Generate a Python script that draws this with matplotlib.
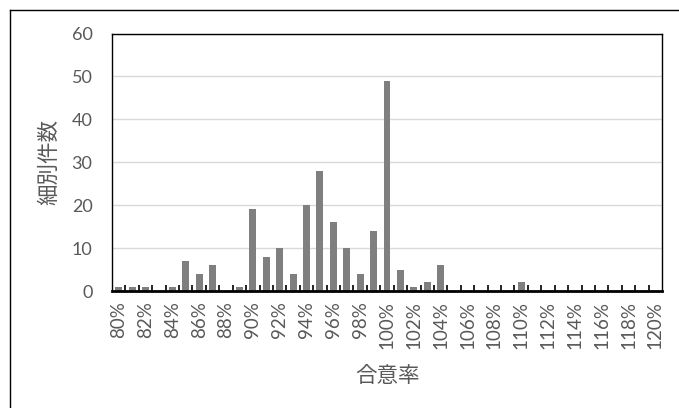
import matplotlib
matplotlib.use("Agg")
import matplotlib.pyplot as plt
from matplotlib.lines import Line2D
import numpy as np

plt.rcParams['font.family'] = ['Lato', 'Noto Sans CJK JP', 'DejaVu Sans']

# 合意率 (%) categories and counts per category
rates = list(range(80, 121))
counts = [1, 1, 1, 0, 1, 7, 4, 6, 0, 1,
          19, 8, 10, 4, 20, 28, 16, 10, 4, 14,
          49, 5, 1, 2, 6, 0, 0, 0, 0, 0,
          2, 0, 0, 0, 0, 0, 0, 0, 0, 0, 0]
tick_labels = [f"{r}%" for r in rates]
y_ticks = [0, 10, 20, 30, 40, 50, 60]

text_color = "#595959"
bar_color = "#7f7f7f"
grid_color = "#d9d9d9"
cjk = ['Noto Sans CJK JP', 'DejaVu Sans']

fig = plt.figure(figsize=(6.79, 4.08), dpi=100)
ax = fig.add_axes([112 / 679, 1 - 291 / 408, 550 / 679, (291 - 33.5) / 408])

x = np.arange(len(rates))
ax.bar(x, counts, width=0.52, color=bar_color, zorder=3)

ax.set_xlim(-0.5, len(rates) - 0.5)
ax.set_ylim(0, 60)
ax.set_yticks(y_ticks)
ax.yaxis.grid(True, color=grid_color, linewidth=1.0, zorder=0)
ax.tick_params(axis='y', length=0, pad=14, labelsize=13, labelcolor=text_color)

# labels on every second category, boundary tick marks between categories
ax.set_xticks(x[::2])
ax.set_xticklabels(tick_labels[::2], rotation=90)
ax.set_xticks(np.arange(0.5, len(rates) - 0.5, 1.0), minor=True)
ax.tick_params(axis='x', which='major', length=0, pad=7, labelsize=13.5, labelcolor=text_color)
ax.tick_params(axis='x', which='minor', direction='in', length=4, width=1.2, color='black')

for side in ('left', 'top', 'right'):
    ax.spines[side].set_color('black')
    ax.spines[side].set_linewidth(1.0)
ax.spines['bottom'].set_color('black')
ax.spines['bottom'].set_linewidth(2.0)
ax.spines['bottom'].set_zorder(5)

ax.set_ylabel("細別件数", fontsize=15.5, color=text_color, labelpad=8, family=cjk)
ax.set_xlabel("合意率", fontsize=15.5, color=text_color, labelpad=12, family=cjk)

# chart frame
fig.add_artist(Line2D([10 / 679, 10 / 679], [0, 1 - 10 / 408], color='black', linewidth=1.0))
fig.add_artist(Line2D([10 / 679, 1], [1 - 10 / 408, 1 - 10 / 408], color='black', linewidth=1.0))

fig.savefig("out.png", dpi=100)
